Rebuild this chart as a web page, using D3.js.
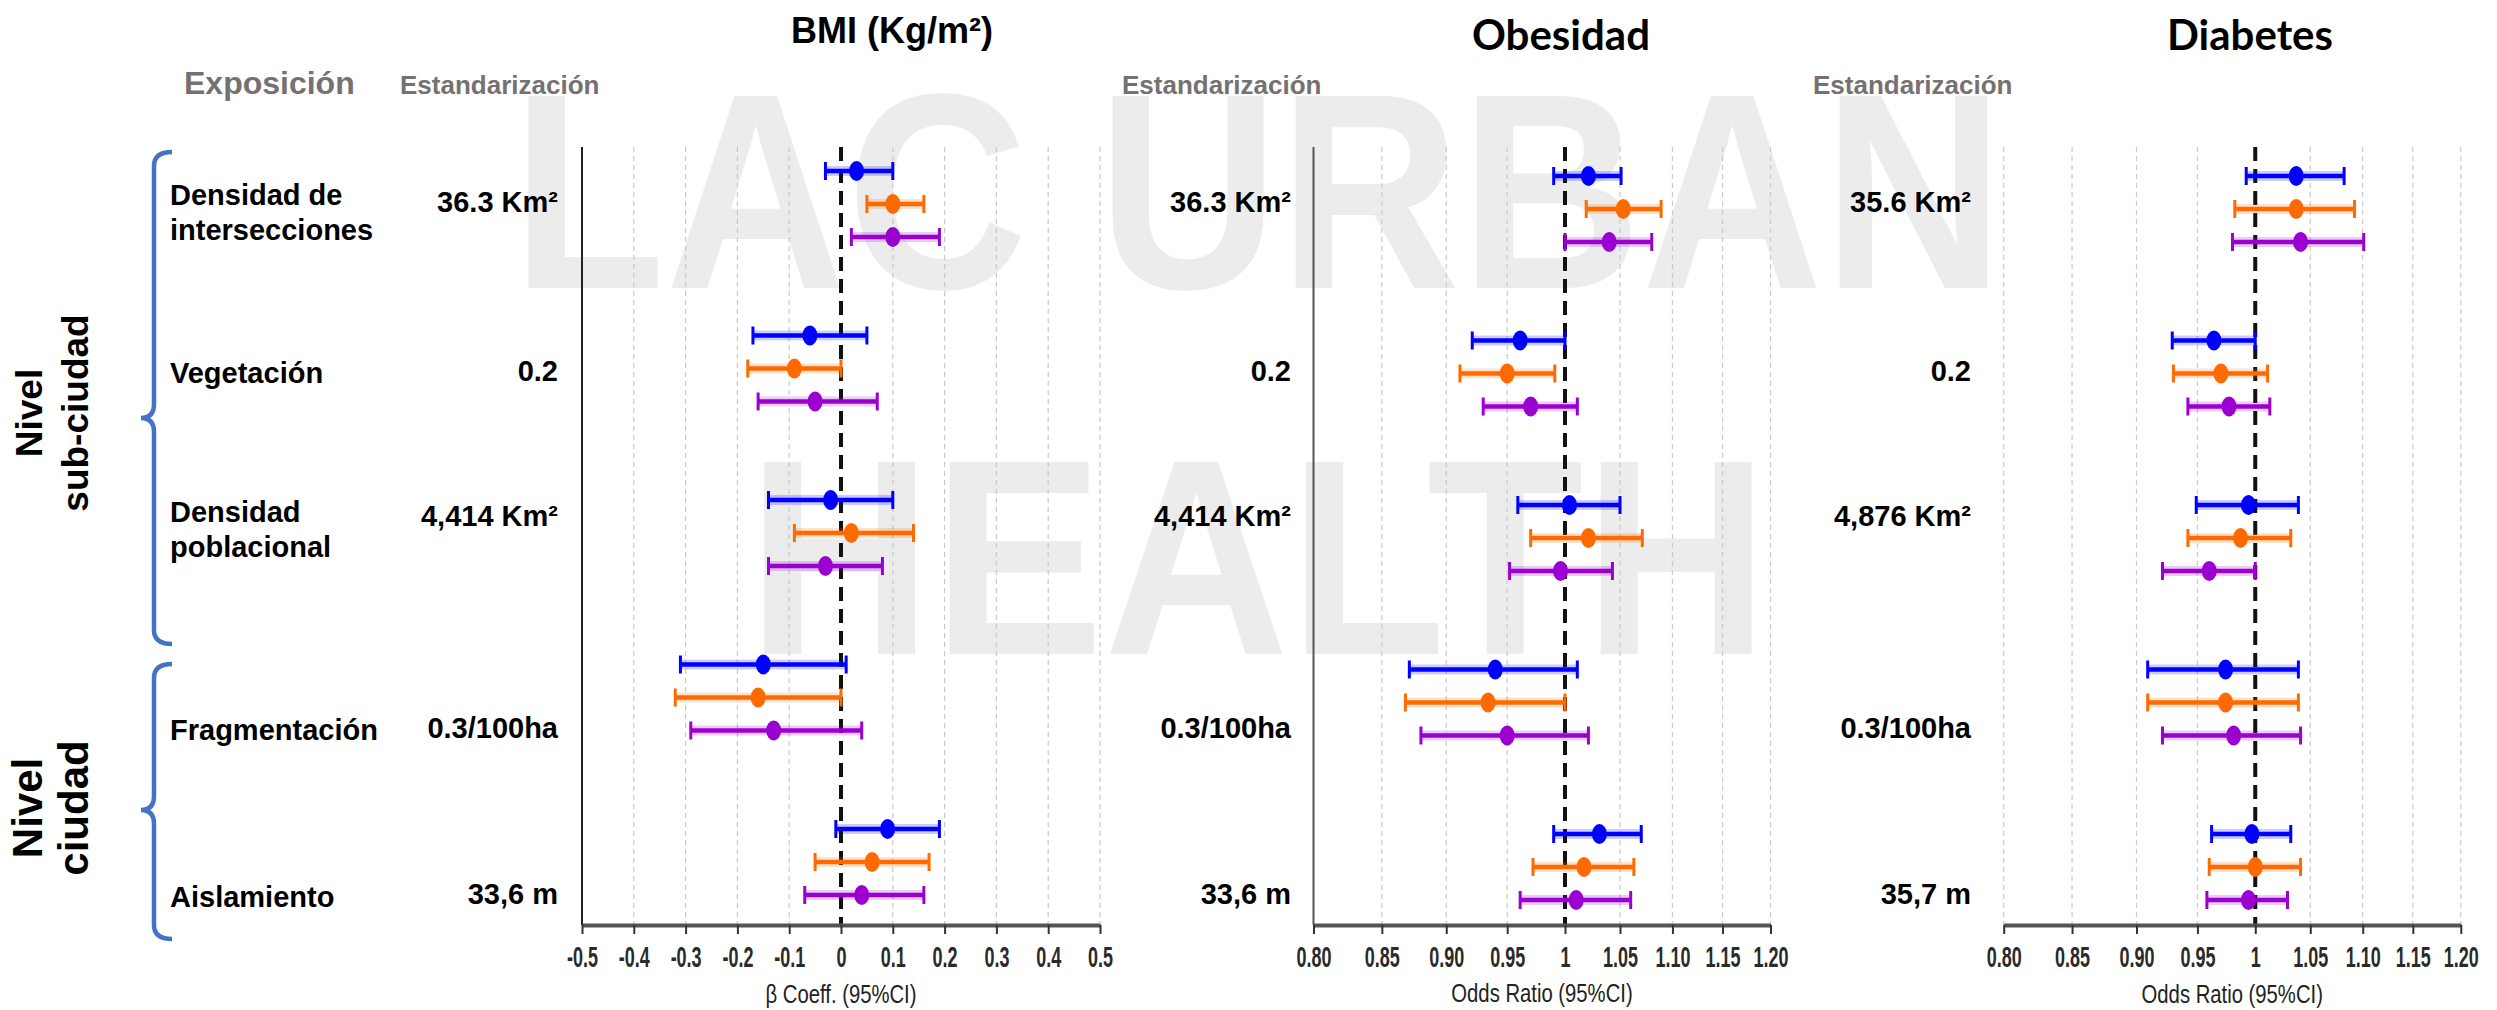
<!DOCTYPE html>
<html>
<head>
<meta charset="utf-8">
<script src="https://cdn.jsdelivr.net/npm/d3@7"></script>
<style>
  body { margin: 0; background: #fff; }
  svg { display: block; font-family: "Liberation Sans", Arial, sans-serif; }
</style>
</head>
<body>
<div id="chart"></div>
<script>
// Exposures (rows) and the three models (colours)
const exposures = ["Densidad de intersecciones", "Vegetación", "Densidad poblacional", "Fragmentación", "Aislamiento"];
const exposureLines = [["Densidad de", "intersecciones"], ["Vegetación"], ["Densidad", "poblacional"], ["Fragmentación"], ["Aislamiento"]];
const models = ["Modelo 1", "Modelo 2", "Modelo 3"];
const modelColors = ["#0000ff", "#ff6a00", "#9a00d0"];

// Tick values and labels
const bmiTicks = [-0.5, -0.4, -0.3, -0.2, -0.1, 0, 0.1, 0.2, 0.3, 0.4, 0.5];
const bmiTickLabels = ["-0.5", "-0.4", "-0.3", "-0.2", "-0.1", "0", "0.1", "0.2", "0.3", "0.4", "0.5"];
const orTicks = [0.80, 0.85, 0.90, 0.95, 1, 1.05, 1.10, 1.15, 1.20];
const orTickLabels = ["0.80", "0.85", "0.90", "0.95", "1", "1.05", "1.10", "1.15", "1.20"];

// [lower, estimate, upper] for each exposure, one triple per model
const bmiCI = [
  [[-0.03, 0.03, 0.10], [0.05, 0.10, 0.16], [0.02, 0.10, 0.19]],
  [[-0.17, -0.06, 0.05], [-0.18, -0.09, 0.00], [-0.16, -0.05, 0.07]],
  [[-0.14, -0.02, 0.10], [-0.09, 0.02, 0.14], [-0.14, -0.03, 0.08]],
  [[-0.31, -0.15, 0.01], [-0.32, -0.16, 0.00], [-0.29, -0.13, 0.04]],
  [[-0.01, 0.09, 0.19], [-0.05, 0.06, 0.17], [-0.07, 0.04, 0.16]]
];
const obesidadCI = [
  [[0.990, 1.021, 1.051], [1.019, 1.053, 1.089], [1.000, 1.040, 1.080]],
  [[0.921, 0.961, 1.000], [0.911, 0.950, 0.991], [0.930, 0.970, 1.011]],
  [[0.959, 1.004, 1.050], [0.970, 1.021, 1.071], [0.952, 0.996, 1.043]],
  [[0.871, 0.940, 1.011], [0.868, 0.934, 1.000], [0.880, 0.950, 1.021]],
  [[0.990, 1.031, 1.070], [0.972, 1.017, 1.063], [0.961, 1.010, 1.060]]
];
const diabetesCI = [
  [[0.992, 1.037, 1.082], [0.982, 1.037, 1.092], [0.980, 1.041, 1.101]],
  [[0.929, 0.964, 1.000], [0.930, 0.970, 1.011], [0.942, 0.977, 1.013]],
  [[0.949, 0.994, 1.039], [0.942, 0.987, 1.032], [0.921, 0.960, 1.000]],
  [[0.909, 0.974, 1.039], [0.909, 0.974, 1.039], [0.921, 0.981, 1.041]],
  [[0.962, 0.997, 1.032], [0.960, 1.000, 1.041], [0.958, 0.994, 1.029]]
];

// Standardisation units per exposure
const bmiStd = ["36.3 Km²", "0.2", "4,414 Km²", "0.3/100ha", "33,6 m"];
const obesidadStd = ["36.3 Km²", "0.2", "4,414 Km²", "0.3/100ha", "33,6 m"];
const diabetesStd = ["35.6 Km²", "0.2", "4,876 Km²", "0.3/100ha", "35,7 m"];

const levels = [["Nivel", "sub-ciudad"], ["Nivel", "ciudad"]];

// ---------------------------------------------------------------
const width = 2497, height = 1010;
const plotTop = 147, plotBase = 925;

const svg = d3.select("#chart").append("svg")
  .attr("width", width)
  .attr("height", height);

// watermark behind everything
const wm = svg.append("g")
  .attr("fill", "#ececec")
  .attr("font-weight", "bold")
  .attr("font-size", 279)
  .attr("text-anchor", "middle");
wm.append("text").attr("transform", "translate(1258,288) scale(0.9,1)").text("LAC URBAN");
wm.append("text").attr("transform", "translate(1258,654) scale(0.92,1)").text("HEALTH");

// rows
const yRow = d3.scalePoint().domain(exposures).range([204, 862]);
const yModel = d3.scalePoint().domain(models).range([-33, 33]);

const panels = [
  { title: "BMI (Kg/m²)", titleX: 892, titleY: 43, titleFont: "'Liberation Sans', Arial, sans-serif", titleSize: 36,
    ci: bmiCI, std: bmiStd, ticks: bmiTicks, labels: bmiTickLabels, refValue: 0, log: false,
    domain: [-0.5, 0.5], range: [582, 1100], dy: 0, stdX: 558, headX: 400, leftAxis: "#222",
    axisTitle: "β Coeff. (95%CI)", axisTitleY: 1003 },
  { title: "Obesidad", titleX: 1561, titleY: 50, titleFont: "Lato, 'Open Sans', sans-serif", titleSize: 42,
    ci: obesidadCI, std: obesidadStd, ticks: orTicks, labels: orTickLabels, refValue: 1, log: true,
    domain: [0.8, 1.2], range: [1313.5, 1770.5], dy: 5, stdX: 1291, headX: 1122, leftAxis: "#555",
    axisTitle: "Odds Ratio (95%CI)", axisTitleY: 1002 },
  { title: "Diabetes", titleX: 2250, titleY: 50, titleFont: "Lato, 'Open Sans', sans-serif", titleSize: 42,
    ci: diabetesCI, std: diabetesStd, ticks: orTicks, labels: orTickLabels, refValue: 1, log: true,
    domain: [0.8, 1.2], range: [2003.7, 2460.8], dy: 5, stdX: 1971, headX: 1813, leftAxis: null,
    axisTitle: "Odds Ratio (95%CI)", axisTitleY: 1003 }
];

// offsets of the standardisation text and exposure labels relative to the row
const stdShift = [-2, 2, -17, 30, 32];
const labelShift = [-9, 4, -21, 32, 35];

// header texts
svg.append("text")
  .attr("x", 184).attr("y", 94)
  .attr("font-size", 32).attr("font-weight", "bold").attr("fill", "#767171")
  .text("Exposición");

// exposure labels
exposureLines.forEach((lines, i) => {
  const t = svg.append("text")
    .attr("font-size", 29).attr("font-weight", "bold").attr("fill", "#000")
    .attr("dominant-baseline", "central");
  lines.forEach((ln, k) => {
    t.append("tspan")
      .attr("x", 170)
      .attr("y", yRow(exposures[i]) + labelShift[i] + k * 35)
      .text(ln);
  });
});

// braces
function brace(top, tip, bottom) {
  const xEnd = 172, xLine = 154, xTip = 141, r = 14;
  return `M${xEnd},${top} Q${xLine},${top} ${xLine},${top + r} L${xLine},${tip - r}` +
    ` Q${xLine},${tip} ${xTip},${tip} Q${xLine},${tip} ${xLine},${tip + r}` +
    ` L${xLine},${bottom - r} Q${xLine},${bottom} ${xEnd},${bottom}`;
}
svg.append("path").attr("d", brace(152, 418, 644))
  .attr("fill", "none").attr("stroke", "#4472c4").attr("stroke-width", 4.5);
svg.append("path").attr("d", brace(664, 810, 939))
  .attr("fill", "none").attr("stroke", "#4472c4").attr("stroke-width", 4.5);

// level labels (rotated)
const levelPos = [{ y: 413, size: 37 }, { y: 808, size: 42 }];
levels.forEach((lv, i) => {
  [42, 88].forEach((bx, k) => {
    svg.append("text")
      .attr("transform", `translate(${bx},${levelPos[i].y}) rotate(-90)`)
      .attr("text-anchor", "middle")
      .attr("font-size", levelPos[i].size).attr("font-weight", "bold").attr("fill", "#000")
      .text(lv[k]);
  });
});

panels.forEach(p => {
  const x = (p.log ? d3.scaleLog() : d3.scaleLinear()).domain(p.domain).range(p.range);
  const g = svg.append("g");

  // title
  g.append("text")
    .attr("x", p.titleX).attr("y", p.titleY)
    .attr("text-anchor", "middle")
    .attr("font-family", p.titleFont)
    .attr("font-size", p.titleSize).attr("font-weight", "bold").attr("fill", "#000")
    .text(p.title);

  // standardisation header
  g.append("text")
    .attr("x", p.headX).attr("y", 94)
    .attr("font-size", 26).attr("font-weight", "bold").attr("fill", "#767171")
    .text("Estandarización");

  // grid lines
  g.selectAll("line.grid")
    .data(p.ticks.filter(t => !(p.leftAxis && t === p.domain[0]) && t !== p.refValue))
    .join("line")
    .attr("class", "grid")
    .attr("x1", d => x(d)).attr("x2", d => x(d))
    .attr("y1", plotTop).attr("y2", plotBase)
    .attr("stroke", "#c9c9c9").attr("stroke-width", 1.2)
    .attr("stroke-dasharray", "5,4");

  // left axis line
  if (p.leftAxis) {
    g.append("line")
      .attr("x1", x(p.domain[0])).attr("x2", x(p.domain[0]))
      .attr("y1", plotTop).attr("y2", plotBase)
      .attr("stroke", p.leftAxis).attr("stroke-width", 2);
  }

  // reference line
  g.append("line")
    .attr("x1", x(p.refValue)).attr("x2", x(p.refValue))
    .attr("y1", plotTop).attr("y2", plotBase)
    .attr("stroke", "#111").attr("stroke-width", 4)
    .attr("stroke-dasharray", "14,8");

  // bottom axis
  const axis = g.append("g")
    .attr("transform", `translate(0,${plotBase})`)
    .call(d3.axisBottom(x).tickValues(p.ticks).tickFormat((d, i) => p.labels[i])
      .tickSize(9).tickSizeOuter(0));
  axis.select(".domain").attr("stroke", "#555").attr("stroke-width", 4);
  axis.selectAll(".tick line").attr("stroke", "#333").attr("stroke-width", 2);
  axis.selectAll(".tick text")
    .attr("font-family", "'Liberation Sans', Arial, sans-serif")
    .attr("font-size", 29)
    .attr("font-weight", "bold")
    .attr("fill", "#2a2a2a")
    .attr("y", 42).attr("dy", 0)
    .attr("transform", "scale(0.62,1)");

  // axis title
  g.append("text")
    .attr("transform", `translate(${(p.range[0] + p.range[1]) / 2},${p.axisTitleY}) scale(0.78,1)`)
    .attr("text-anchor", "middle")
    .attr("font-size", 26).attr("fill", "#222")
    .text(p.axisTitle);

  // standardisation values
  p.std.forEach((s, i) => {
    g.append("text")
      .attr("x", p.stdX)
      .attr("y", yRow(exposures[i]) + stdShift[i])
      .attr("dominant-baseline", "central")
      .attr("text-anchor", "end")
      .attr("font-size", 29).attr("font-weight", "bold").attr("fill", "#000")
      .text(s);
  });

  // error bars
  const rows = [];
  p.ci.forEach((trip, i) => trip.forEach((v, j) => rows.push({
    y: yRow(exposures[i]) + yModel(models[j]) + p.dy,
    lo: v[0], est: v[1], hi: v[2], color: modelColors[j]
  })));

  const bars = g.selectAll("g.bar").data(rows).join("g").attr("class", "bar");
  bars.append("line")
    .attr("x1", d => x(d.lo)).attr("x2", d => x(d.hi))
    .attr("y1", d => d.y).attr("y2", d => d.y)
    .attr("stroke", d => d.color).attr("stroke-width", 10).attr("stroke-opacity", 0.2);
  bars.append("line")
    .attr("x1", d => x(d.lo)).attr("x2", d => x(d.hi))
    .attr("y1", d => d.y).attr("y2", d => d.y)
    .attr("stroke", d => d.color).attr("stroke-width", 4.5);
  ["lo", "hi"].forEach(k => {
    bars.append("line")
      .attr("x1", d => x(d[k])).attr("x2", d => x(d[k]))
      .attr("y1", d => d.y - 9).attr("y2", d => d.y + 9)
      .attr("stroke", d => d.color).attr("stroke-width", 3);
  });
  bars.append("ellipse")
    .attr("cx", d => x(d.est)).attr("cy", d => d.y)
    .attr("rx", 7.5).attr("ry", 10)
    .attr("fill", d => d.color);
});
</script>
</body>
</html>
